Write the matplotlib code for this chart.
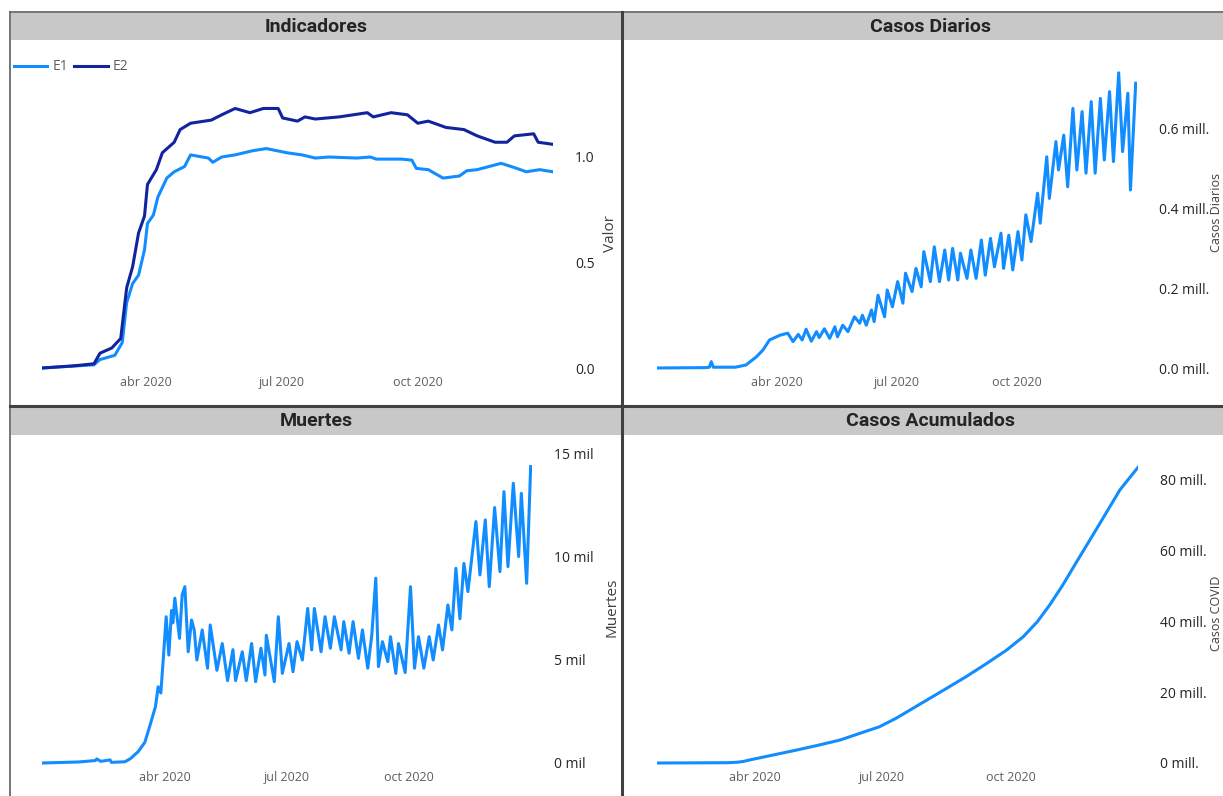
import numpy as np
import pandas as pd
import matplotlib
matplotlib.use('Agg')
import matplotlib.pyplot as plt
from matplotlib.patches import Rectangle
from matplotlib.lines import Line2D

plt.rcParams['font.family'] = ['Open Sans', 'DejaVu Sans']

W, H = 1223, 796

# ---- data ----
ini_jhu = pd.Timestamp('2020-01-22')
ini_ecdc = pd.Timestamp('2019-12-31')
fin = pd.Timestamp('2020-12-31')

meses = [pd.Timestamp('2020-04-01'), pd.Timestamp('2020-07-01'), pd.Timestamp('2020-10-01')]
meses_txt = ['abr 2020', 'jul 2020', 'oct 2020']

e2_dias = [0, 21, 35, 39, 47, 53, 57, 61, 65, 69, 71, 77, 81, 89, 93, 100, 114, 121, 130, 140,
           149, 159, 162, 172, 177, 184, 200, 219, 223, 235, 246, 253, 260, 272, 284, 293, 305,
           313, 318, 331, 334, 344]
e2 = [0.0, 0.01, 0.02, 0.07, 0.095, 0.14, 0.38, 0.48, 0.64, 0.72, 0.87, 0.94, 1.02, 1.07, 1.13,
      1.16, 1.175, 1.20, 1.23, 1.21, 1.23, 1.23, 1.185, 1.17, 1.19, 1.18, 1.19, 1.21, 1.19, 1.21,
      1.20, 1.16, 1.17, 1.14, 1.13, 1.10, 1.07, 1.07, 1.10, 1.11, 1.07, 1.06]

e1_dias = [0, 35, 39, 49, 54, 57, 61, 65, 69, 71, 75, 78, 84, 89, 96, 100, 112, 115, 121, 130,
           142, 151, 158, 165, 175, 184, 193, 212, 221, 225, 242, 249, 252, 260, 270, 281, 286,
           293, 309, 318, 326, 335, 344]
e1 = [0.0, 0.015, 0.04, 0.06, 0.12, 0.31, 0.40, 0.44, 0.56, 0.685, 0.725, 0.81, 0.90, 0.93, 0.955,
      1.01, 0.995, 0.975, 1.00, 1.01, 1.03, 1.04, 1.03, 1.02, 1.01, 0.995, 1.00, 0.995, 1.00, 0.99,
      0.99, 0.985, 0.946, 0.94, 0.90, 0.91, 0.935, 0.94, 0.97, 0.95, 0.93, 0.94, 0.93]

# casos diarios, miles
diarios_dias = [0, 38, 40, 41.5, 43, 60, 68, 76, 81, 86, 94, 100, 104, 108, 111, 114, 118, 122, 124,
                128, 132, 136, 138, 142, 146, 151, 155, 157, 160, 164, 166, 169, 174, 176, 180, 184,
                188, 190, 195, 198, 202, 204, 209, 212, 216, 220, 223, 226, 230, 232, 237, 240, 244,
                248, 251, 255, 258, 263, 265, 269, 272, 276, 279, 282, 286, 291, 293, 298, 300, 305,
                307, 311, 314, 318, 321, 325, 328, 332, 335, 339, 342, 346, 349, 353, 356, 360, 362, 366]
diarios_miles = [0, 1, 2, 15.8, 2, 2, 7.5, 28, 45, 70, 82, 87, 66, 84, 70, 97, 67, 91, 76,
                 98, 74, 103, 78, 107, 91, 128, 112, 132, 107, 145, 116, 182, 128, 195, 153, 216,
                 162, 237, 191, 249, 203, 291, 216, 303, 216, 295, 220, 299, 220, 287, 224, 295, 224,
                 320, 232, 324, 253, 337, 249, 332, 245, 341, 270, 383, 316, 437, 362, 528, 424, 566,
                 495, 582, 453, 649, 495, 641, 487, 666, 487, 674, 520, 691, 516, 738, 541, 687, 445, 712]

# muertes, miles
muertes_dias = [0, 27.5, 40, 41, 44, 51, 52, 62, 66, 72, 77, 81, 85, 87, 89, 91, 93, 95, 97, 98,
                99.5, 103, 105, 107, 109.5, 112, 114, 116, 120, 124, 126, 131, 135, 139, 143, 145,
                150, 153, 157, 160, 164, 167, 168, 174, 177, 180, 185, 188, 191, 195, 199, 202, 204,
                209, 212, 216, 219, 224, 226, 230, 233, 237, 240, 244, 247, 250, 252, 255, 259, 261,
                265, 267, 272, 276, 279, 282, 286, 290, 293, 297, 300, 304, 307, 310, 313, 316, 319,
                325, 328, 332, 335, 339, 343, 346, 349, 353, 357, 359, 363, 366]
muertes_miles = [0, 0.05, 0.12, 0.2, 0.08, 0.15, 0.03, 0.06, 0.2, 0.55, 1.0, 1.85, 2.74, 3.7, 3.4,
                 5.2, 7.1, 5.24, 7.4, 6.8, 8.0, 6.05, 8.16, 8.56, 5.4, 6.94, 6.46, 5.0, 6.46, 4.6,
                 6.7, 4.5, 5.8, 4.0, 5.5, 4.0, 5.4, 4.0, 5.8, 3.95, 5.57, 4.27, 6.2, 3.95, 7.1, 4.35,
                 5.8, 4.43, 5.89, 5.0, 7.5, 5.49, 7.5, 5.4, 7.1, 5.57, 7.1, 5.49, 6.86, 5.33, 6.86,
                 5.08, 6.46, 4.6, 6.2, 8.97, 4.68, 5.89, 4.92, 6.13, 4.35, 5.8, 4.39, 8.56, 4.6, 6.13,
                 4.6, 6.13, 5.0, 6.7, 5.49, 7.67, 6.46, 9.45, 7.0, 9.69, 8.32, 11.72, 9.13, 11.8,
                 8.56, 12.4, 9.29, 13.17, 9.53, 13.58, 10.02, 13.09, 8.72, 14.39]

# casos acumulados, millones
acum_dias = [0, 50, 57, 62, 66, 74, 83, 100, 116, 131, 145, 159, 171, 183, 195, 207, 221, 236, 250,
             262, 272, 281, 290, 300, 312, 321, 331, 344]
acum_mill = [0, 0.08, 0.2, 0.45, 0.84, 1.5, 2.25, 3.66, 5.07, 6.48, 8.35, 10.2, 12.6, 15.4, 18.2,
             21.0, 24.3, 28.1, 31.8, 35.6, 39.8, 44.6, 50.0, 56.6, 64.4, 70.3, 76.9, 83.3]


def fechas(ini, dias):
    return ini + pd.to_timedelta(np.array(dias), unit='D')


AZUL = '#118DFF'
AZUL_OSC = '#12239E'
GRIS_BARRA = '#c8c8c8'
BORDE = '#6a6a6a'

fig = plt.figure(figsize=(W / 100, H / 100), dpi=100)


def fx(x):
    return x / W


def fy(y):
    return 1 - y / H


def rect(x0, y0, x1, y1, color):
    fig.add_artist(Rectangle((fx(x0), fy(y1)), (x1 - x0) / W, (y1 - y0) / H,
                             transform=fig.transFigure, facecolor=color,
                             edgecolor='none', zorder=-2))


def linea(x0, y0, x1, y1, lw, color=BORDE):
    fig.add_artist(Line2D([fx(x0), fx(x1)], [fy(y0), fy(y1)], transform=fig.transFigure,
                          color=color, lw=lw, zorder=-1))


# panel frames and title bars
rect(11, 13, 621, 40, GRIS_BARRA)
rect(624, 13, W, 40, GRIS_BARRA)
rect(11, 407, 621, 435, GRIS_BARRA)
rect(624, 407, W, 435, GRIS_BARRA)
linea(10, 12, W, 12, 1.3)
linea(10, 12, 10, H, 1.3)
linea(622.5, 12, 622.5, H, 2.2, '#404040')
linea(10, 405.5, W, 405.5, 2.2, '#404040')

titulos = [(316, 27, 'Indicadores'), (931, 27, 'Casos Diarios'),
           (316, 421, 'Muertes'), (931, 421, 'Casos Acumulados')]
for x, y, t in titulos:
    fig.text(fx(x), fy(y), t, ha='center', va='center', fontsize=14, fontweight='bold',
             family=['Roboto', 'DejaVu Sans'], color='#252423')


def panel(L, R, T, B):
    ax = fig.add_axes([fx(L), fy(B), (R - L) / W, (B - T) / H])
    ax.patch.set_visible(False)
    for s in ax.spines.values():
        s.set_visible(False)
    ax.yaxis.tick_right()
    ax.tick_params(axis='y', length=0, pad=16, labelsize=10, labelcolor='#252423')
    ax.tick_params(axis='x', length=0, pad=3, labelsize=9, labelcolor='#605e5c')
    return ax


# Indicadores
ax1 = panel(42, 553, 50, 372)
ax1.plot(fechas(ini_jhu, e1_dias), e1, color=AZUL, lw=2.2, label='E1', solid_joinstyle='round')
ax1.plot(fechas(ini_jhu, e2_dias), e2, color=AZUL_OSC, lw=2.2, label='E2', solid_joinstyle='round')
ax1.set_xlim(ini_jhu, fin)
ax1.set_ylim(-4 / 211, 318 / 211)
ax1.set_yticks([0, 0.5, 1.0])
ax1.set_yticklabels(['0.0', '0.5', '1.0'])
ax1.set_xticks(meses)
ax1.set_xticklabels(meses_txt)
fig.legend(loc='center left', bbox_to_anchor=(fx(14), fy(67)), frameon=False, ncol=2,
           borderpad=0, borderaxespad=0, handlelength=2.4, handletextpad=0.35,
           columnspacing=0.45, fontsize=10, labelcolor='#605e5c')

# Casos diarios
ax2 = panel(657, 1137, 50, 372)
ax2.plot(fechas(ini_ecdc, diarios_dias), np.array(diarios_miles) * 1000, color=AZUL, lw=2.2,
         solid_joinstyle='round')
ax2.set_xlim(ini_ecdc, fin + pd.Timedelta(days=1))
ax2.set_ylim(-4 * 2500, 318 * 2500)
ax2.set_yticks([0, 2e5, 4e5, 6e5])
ax2.set_yticklabels(['0.0 mill.', '0.2 mill.', '0.4 mill.', '0.6 mill.'])
ax2.set_xticks(meses)
ax2.set_xticklabels(meses_txt)

# Muertes
ax3 = panel(42, 532, 445, 767)
ax3.plot(fechas(ini_ecdc, muertes_dias), np.array(muertes_miles) * 1000, color=AZUL, lw=2.2,
         solid_joinstyle='round')
ax3.set_xlim(ini_ecdc, fin + pd.Timedelta(days=1))
ax3.set_ylim(-4 * 48.54, 318 * 48.54)
ax3.set_yticks([0, 5000, 10000, 15000])
ax3.set_yticklabels(['0 mil', '5 mil', '10 mil', '15 mil'])
ax3.set_xticks(meses)
ax3.set_xticklabels(meses_txt)

# Casos acumulados
ax4 = panel(657, 1138, 445, 767)
ax4.plot(fechas(ini_jhu, acum_dias), np.array(acum_mill) * 1e6, color=AZUL, lw=2.2,
         solid_joinstyle='round')
ax4.set_xlim(ini_jhu, fin)
ax4.set_ylim(-4 * 0.2817e6, 318 * 0.2817e6)
ax4.set_yticks([0, 20e6, 40e6, 60e6, 80e6])
ax4.set_yticklabels(['0 mill.', '20 mill.', '40 mill.', '60 mill.', '80 mill.'])
ax4.set_xticks(meses)
ax4.set_xticklabels(meses_txt)

# axis titles on the right
for x, y, t, fs in [(610, 233, 'Valor', 11), (1216.5, 213, 'Casos Diarios', 9),
                    (612, 607, 'Muertes', 11), (1216.5, 613, 'Casos COVID', 9)]:
    fig.text(fx(x), fy(y), t, rotation=90, ha='center', va='center', fontsize=fs, color='#404040')

fig.savefig('out.png', dpi=100)
